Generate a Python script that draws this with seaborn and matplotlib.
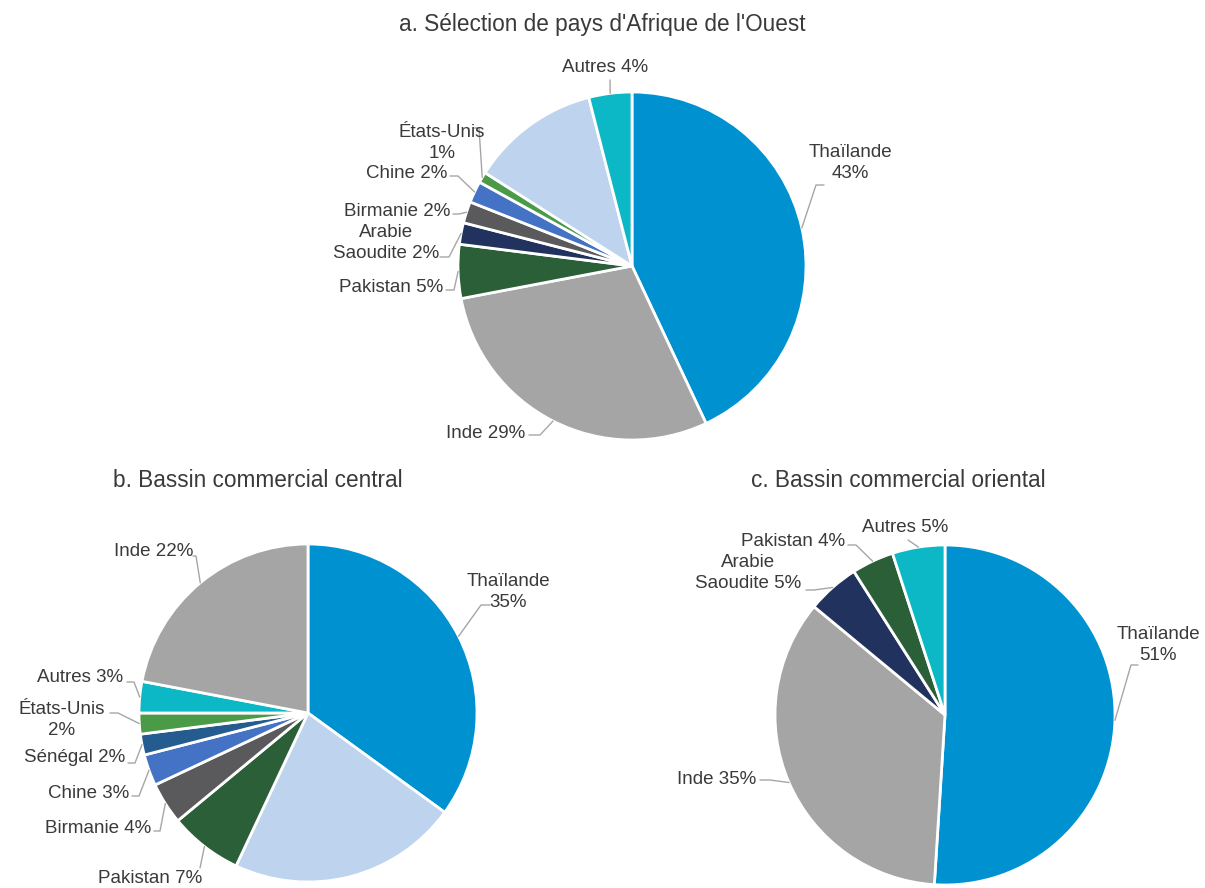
import numpy as np
import matplotlib
matplotlib.use("Agg")
import matplotlib.pyplot as plt
import seaborn as sns

sns.set_theme(style="white")
plt.rcParams["font.family"] = ["Liberation Sans", "DejaVu Sans"]

# ---------------- data ----------------
cats_a = ["Thaïlande", "Inde", "Pakistan", "Arabie Saoudite", "Birmanie", "Chine",
          "États-Unis", "Viet Nam", "Autres"]
vals_a = [43, 29, 5, 2, 2, 2, 1, 12, 4]
labels_a = ["Thaïlande\n43%", "Inde 29%", "Pakistan 5%", "Arabie\nSaoudite 2%",
            "Birmanie 2%", "Chine 2%", "États-Unis\n1%", None, "Autres 4%"]

cats_b = ["Thaïlande", "Viet Nam", "Pakistan", "Birmanie", "Chine", "Sénégal",
          "États-Unis", "Autres", "Inde"]
vals_b = [35, 22, 7, 4, 3, 2, 2, 3, 22]
labels_b = ["Thaïlande\n35%", None, "Pakistan 7%", "Birmanie 4%", "Chine 3%",
            "Sénégal 2%", "États-Unis\n2%", "Autres 3%", "Inde 22%"]

cats_c = ["Thaïlande", "Inde", "Arabie Saoudite", "Pakistan", "Autres"]
vals_c = [51, 35, 5, 4, 5]
labels_c = ["Thaïlande\n51%", "Inde 35%", "Arabie\nSaoudite 5%", "Pakistan 4%", "Autres 5%"]

titles = ["a. Sélection de pays d'Afrique de l'Ouest",
          "b. Bassin commercial central",
          "c. Bassin commercial oriental"]

# ---------------- styles ----------------
COL = {
    "Thaïlande": "#0091D1", "Inde": "#A5A5A5", "Viet Nam": "#BDD3EE",
    "Autres": "#0DB8C6", "Pakistan": "#2B5F38", "Arabie Saoudite": "#22325E",
    "Birmanie": "#5A5A5C", "Chine": "#4472C4", "États-Unis": "#4B9A47",
    "Sénégal": "#245C90",
}
TXT = "#3A3A3A"
LINE = "#A6A6A6"
W, H = 1205, 888

fig = plt.figure(figsize=(W / 100, H / 100), dpi=100)
fig.patch.set_facecolor("white")


def fpos(x, y):
    return (x / W, 1 - y / H)


# layout: (center x, center y, radius) in px, and per-label text placement
layout_a = dict(c=(632, 266), r=174, title=(602, 25), lab=[
    ((850, 163), "center", [(824, 185), (816, 185)]),
    ((525, 433), "right", [(529, 435), (540, 435)]),
    ((443, 288), "right", [(446, 290), (454, 290)]),
    ((386, 243), "center", [(440, 257), (449, 257)]),
    ((450, 212), "right", [(453, 214), (459, 214)]),
    ((447, 173), "right", [(450, 176), (458, 176)]),
    ((442, 143), "center", [(474, 128), (479, 128)]),
    None,
    ((605, 68), "center", [(610, 80)]),
])
layout_b = dict(c=(308, 713), r=169, title=(258, 480), lab=[
    ((508, 592), "center", [(490, 605), (481, 605)]),
    None,
    ((150, 878), "center", [(200, 868)]),
    ((151, 828), "right", [(154, 831), (160, 831)]),
    ((129, 793), "right", [(132, 796), (139, 796)]),
    ((125, 757), "right", [(128, 763), (135, 763)]),
    ((62, 720), "center", [(110, 713), (118, 713)]),
    ((123, 677), "right", [(127, 682), (134, 682)]),
    ((193, 551), "right", [(193, 556), (196, 556)]),
])
layout_c = dict(c=(945, 715), r=170, title=(898, 480), lab=[
    ((1158, 645), "center", [(1138, 665), (1131, 665)]),
    ((756, 779), "right", [(760, 780), (770, 780)]),
    ((748, 573), "center", [(806, 590), (814, 590)]),
    ((845, 541), "right", [(848, 545), (856, 545)]),
    ((905, 527), "center", [(908, 540)]),
])


def draw(cats, vals, labels, title, lay):
    cx, cy, r = lay["c"][0], lay["c"][1], lay["r"]
    ax = fig.add_axes([(cx - r) / W, (H - cy - r) / H, 2 * r / W, 2 * r / H])
    colors = [COL[c] for c in cats]
    wedges, _ = ax.pie(vals, colors=colors, startangle=90, counterclock=False,
                       radius=1.0,
                       wedgeprops=dict(edgecolor="white", linewidth=2))
    ax.set_xlim(-1, 1)
    ax.set_ylim(-1, 1)
    ax.set_axis_off()
    to_fig = ax.transData + fig.transFigure.inverted()
    for w, lab, spec in zip(wedges, labels, lay["lab"]):
        if lab is None or spec is None:
            continue
        mid = np.deg2rad((w.theta1 + w.theta2) / 2)
        anchor = to_fig.transform((np.cos(mid), np.sin(mid)))
        (tx, ty), ha, via = spec
        pts = [tuple(anchor)] + [fpos(*p) for p in reversed(via)]
        xs, ys = zip(*pts)
        fig.add_artist(plt.Line2D(xs, ys, transform=fig.transFigure,
                                  color=LINE, lw=1))
        fig.text(*fpos(tx, ty), lab, ha=ha, va="center", fontsize=13.5,
                 color=TXT, multialignment="center", linespacing=1.35)
    fig.text(*fpos(*lay["title"]), title, ha="center", va="center",
             fontsize=16.3, color=TXT)


draw(cats_a, vals_a, labels_a, titles[0], layout_a)
draw(cats_b, vals_b, labels_b, titles[1], layout_b)
draw(cats_c, vals_c, labels_c, titles[2], layout_c)

fig.savefig("out.png", dpi=100, facecolor="white")
